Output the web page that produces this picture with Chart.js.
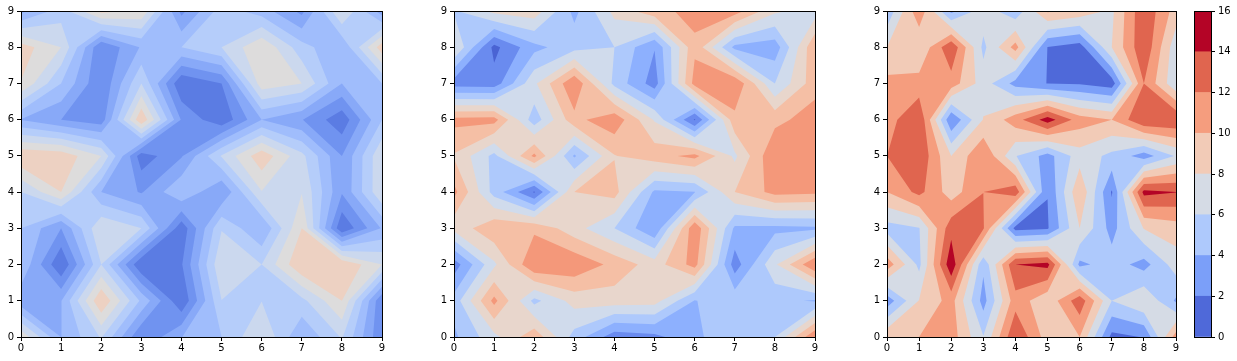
<!DOCTYPE html>
<html>
<head>
<meta charset="utf-8">
<title>Contour panels</title>
<script src="https://cdn.jsdelivr.net/npm/chart.js@4"></script>
<style>
  html, body { margin: 0; padding: 0; background: #fff; }
  #page { position: relative; width: 1237px; height: 361px; overflow: hidden; }
  canvas { position: absolute; top: 0; }
</style>
</head>
<body>
<div id="page">
  <canvas id="panel1"></canvas>
  <canvas id="panel2"></canvas>
  <canvas id="panel3"></canvas>
  <canvas id="colorbar"></canvas>
</div>
<script>
// grid values, first row is y=0, first column is x=0
const gridTicks = [0, 1, 2, 3, 4, 5, 6, 7, 8, 9];

const panel1Values = [
  [7.8, 3.98, 6.1, 2.02, 3.98, 5, 6.95, 4.1, 6.1, 2.1],
  [3.3, 3.95, 8.95, 4.8, 1.1, 5.98, 5.98, 5.7, 8, 2.1],
  [4.9, 1.05, 6, 1.05, 1.9, 6.9, 6, 8.95, 8.95, 7],
  [5, 3, 6.95, 6, 1.3, 5.93, 4.01, 8, 1.1, 4.1],
  [6, 8, 4, 2.9, 4.9, 3.02, 6.95, 6.95, 3.1, 6.9],
  [8.9, 8.7, 7, 1.4, 2.9, 6.1, 8.7, 6.3, 3, 6.9],
  [3.95, 3, 2.4, 8.9, 2.9, 1.2, 4, 3.05, 1.3, 5],
  [7.95, 5, 2.05, 6, 1.1, 2, 7.6, 7, 4, 5],
  [8.5, 7, 2.05, 4.1, 5, 6, 7.9, 5.4, 4.1, 8.6],
  [3.7, 5.5, 8.3, 7.85, 2.7, 5.5, 4.5, 2.7, 7.1, 3.4]
];
const panel2Values = [
  [2.8, 4.7, 6.7, 3.6, 1.4, 1.7, 2.85, 3.5, 4, 7.95],
  [3.4, 7.3, 3.7, 5.4, 5.5, 5.4, 2.95, 3.7, 3.25, 2.9],
  [1.45, 4.8, 7.95, 7.8, 6.7, 5.5, 7.4, 1.45, 4.85, 7.95],
  [5.3, 6.8, 6.8, 5.4, 4, 2.1, 7.8, 2.8, 2.7, 2.8],
  [7.3, 3.6, 0.9, 6, 6.4, 2.8, 2.95, 6, 7.35, 7.2],
  [5.9, 3.7, 7.25, 2.85, 5.95, 6.6, 7.3, 4.8, 7.95, 7.8],
  [7.3, 7.4, 3.4, 6.7, 7.7, 4.9, 0.9, 6.7, 6.7, 7.5],
  [1.5, 1.4, 4.8, 7.9, 3.7, 1.5, 7.4, 7.9, 4, 6.6],
  [5.1, 0.7, 2.7, 3.6, 4, 2.05, 6.8, 2.7, 2.4, 6.9],
  [3.9, 5.3, 5.6, 2.7, 5.3, 6.7, 7.3, 7.5, 5.2, 4.5]
];
const panel3Values = [
  [9.6, 10, 11, 6.1, 13.9, 9, 10, 1.4, 2.1, 11],
  [2.8, 8.1, 10.8, 3.2, 11.2, 8.5, 13.3, 6, 7.9, 3.7],
  [11.2, 5.5, 15.5, 4.4, 14, 14.6, 3.5, 5, 3.2, 7],
  [5.2, 5.9, 13.3, 12.2, 1.3, 1.8, 8, 3.2, 8.1, 9],
  [10, 12.6, 9, 11.995, 13.3, 2.05, 9.8, 1.8, 14.6, 14.05],
  [12, 13.7, 8, 11.9, 6.1, 3.2, 7.1, 5.5, 3, 6.2],
  [11.1, 13.9, 2.2, 8.1, 11.1, 15, 11, 10, 13.9, 13.9],
  [10.6, 10.8, 11.1, 7, 3.3, 1.95, 1.8, 0.9, 12, 6.4],
  [8, 8.1, 13.7, 5.5, 10.8, 1.95, 1, 8, 13.7, 6.7],
  [4.5, 11.5, 3.4, 7.1, 4.6, 10.3, 9.4, 7.6, 13.7, 9.1]
];

const panel1Levels = [1, 2, 3, 4, 5, 6, 7, 8, 9];
const panel2Levels = [0, 1, 2, 3, 4, 5, 6, 7, 8];
const panel3Levels = [0, 2, 4, 6, 8, 10, 12, 14, 16];

const panel1Colors = ['#5b7ce3', '#7093f0', '#88a9f8', '#a0bdfc', '#b5cdfa', '#cbd8ee', '#dddcdc', '#edd1c2'];
const panel2Colors = ['#4a63d3', '#6a8bef', '#8db0fe', '#aec9fc', '#d0dbec', '#e8d6cc', '#f5bfa5', '#f4987a'];
const panel3Colors = ['#4f69d9', '#7b9ff9', '#aec9fc', '#d5dbe5', '#f2cbb7', '#f59d7e', '#e0654f', '#b40426'];

const TICK_COLOR = '#000';
const TICK_FONT = { family: 'DejaVu Sans', size: 10 };

function crossing(a, b, level) {
  const t = (level - a.v) / (b.v - a.v);
  return { x: a.x + t * (b.x - a.x), y: a.y + t * (b.y - a.y) };
}

// keeps the part of one grid cell at or above the level, as marching squares does
function clipCell(corners, level) {
  const above = corners.map(c => c.v >= level);
  const saddle = above[0] === above[2] && above[1] === above[3] && above[0] !== above[1];
  const mean = corners.reduce((s, c) => s + c.v, 0) / 4;
  if (saddle && mean < level) {
    // two separate corners, the middle of the cell is below the level
    const rings = [];
    corners.forEach((c, n) => {
      if (!above[n]) return;
      rings.push([crossing(corners[(n + 3) % 4], c, level), c, crossing(c, corners[(n + 1) % 4], level)]);
    });
    return rings;
  }
  const ring = [];
  corners.forEach((a, n) => {
    const b = corners[(n + 1) % 4];
    if (above[n]) ring.push(a);
    if (above[n] !== above[(n + 1) % 4]) ring.push(crossing(a, b, level));
  });
  return ring.length ? [ring] : [];
}

const contourFill = {
  id: 'contourFill',
  beforeDatasetsDraw(chart, args, opts) {
    const { ctx, scales: { x, y } } = chart;
    const grid = opts.values;
    ctx.save();
    opts.colors.forEach((color, band) => {
      const level = opts.levels[band];
      ctx.beginPath();
      for (let j = 0; j < grid.length - 1; j++) {
        for (let i = 0; i < grid[j].length - 1; i++) {
          const corners = [
            { x: gridTicks[i], y: gridTicks[j], v: grid[j][i] },
            { x: gridTicks[i + 1], y: gridTicks[j], v: grid[j][i + 1] },
            { x: gridTicks[i + 1], y: gridTicks[j + 1], v: grid[j + 1][i + 1] },
            { x: gridTicks[i], y: gridTicks[j + 1], v: grid[j + 1][i] }
          ];
          clipCell(corners, level).forEach(ring => {
            ring.forEach((p, n) => {
              const px = x.getPixelForValue(p.x);
              const py = y.getPixelForValue(p.y);
              if (n === 0) ctx.moveTo(px, py); else ctx.lineTo(px, py);
            });
            ctx.closePath();
          });
        }
      }
      ctx.fillStyle = color;
      ctx.fill();
    });
    ctx.restore();
  }
};

const frame = {
  id: 'frame',
  afterDraw(chart) {
    const { ctx, chartArea: a } = chart;
    ctx.save();
    ctx.strokeStyle = '#000';
    ctx.lineWidth = 1;
    ctx.strokeRect(a.left + 0.5, a.top + 0.5, a.right - a.left, a.bottom - a.top);
    ctx.restore();
  }
};

function axisOptions(padding, extra) {
  return Object.assign({
    type: 'linear',
    min: 0,
    max: 9,
    border: { display: false },
    grid: { drawOnChartArea: false, drawTicks: true, tickLength: 4, tickColor: '#000', tickWidth: 1 },
    ticks: { stepSize: 1, color: TICK_COLOR, font: TICK_FONT, padding: padding, maxRotation: 0, autoSkip: false }
  }, extra);
}

function makePanel(id, canvasLeft, width, plotRight, values, levels, colors) {
  const canvas = document.getElementById(id);
  canvas.style.left = canvasLeft + 'px';
  const points = [];
  values.forEach((row, j) => row.forEach((v, i) => points.push({ x: gridTicks[i], y: gridTicks[j] })));
  return new Chart(canvas, {
    type: 'scatter',
    data: { datasets: [{ data: points, pointRadius: 0 }] },
    options: {
      responsive: false,
      animation: false,
      layout: { padding: { left: 0, top: 11, right: width - plotRight, bottom: 0 } },
      plugins: {
        legend: { display: false },
        tooltip: { enabled: false },
        contourFill: { values: values, levels: levels, colors: colors }
      },
      scales: {
        x: axisOptions(1, { afterFit: s => { s.height = 24; } }),
        y: axisOptions(3, { afterFit: s => { s.width = 21; } })
      }
    },
    plugins: [contourFill, frame]
  });
}

function setSize(id, w, h) {
  const c = document.getElementById(id);
  c.width = w;
  c.height = h;
  c.style.width = w + 'px';
  c.style.height = h + 'px';
}

setSize('panel1', 400, 361);
setSize('panel2', 400, 361);
setSize('panel3', 320, 361);
setSize('colorbar', 70, 361);

makePanel('panel1', 0, 400, 382, panel1Values, panel1Levels, panel1Colors);
makePanel('panel2', 433, 400, 382, panel2Values, panel2Levels, panel2Colors);
makePanel('panel3', 866, 320, 310, panel3Values, panel3Levels, panel3Colors);

// colorbar: one floating bar per band of the third panel
const colorbarCanvas = document.getElementById('colorbar');
colorbarCanvas.style.left = '1167px';
new Chart(colorbarCanvas, {
  type: 'bar',
  data: {
    labels: [''],
    datasets: panel3Colors.map((color, band) => ({
      data: [[panel3Levels[band], panel3Levels[band + 1]]],
      backgroundColor: color,
      categoryPercentage: 1,
      barPercentage: 1,
      borderWidth: 0
    }))
  },
  options: {
    responsive: false,
    animation: false,
    layout: { padding: { left: 27, top: 11, right: 0, bottom: 24 } },
    plugins: { legend: { display: false }, tooltip: { enabled: false } },
    scales: {
      x: { display: false, stacked: true },
      y: {
        position: 'right',
        min: 0,
        max: 16,
        border: { display: false },
        grid: { drawOnChartArea: false, drawTicks: true, tickLength: 4, tickColor: '#000' },
        ticks: { stepSize: 2, color: TICK_COLOR, font: TICK_FONT, padding: 3 },
        afterFit: s => { s.width = 26; }
      }
    }
  },
  plugins: [frame]
});
</script>
</body>
</html>
